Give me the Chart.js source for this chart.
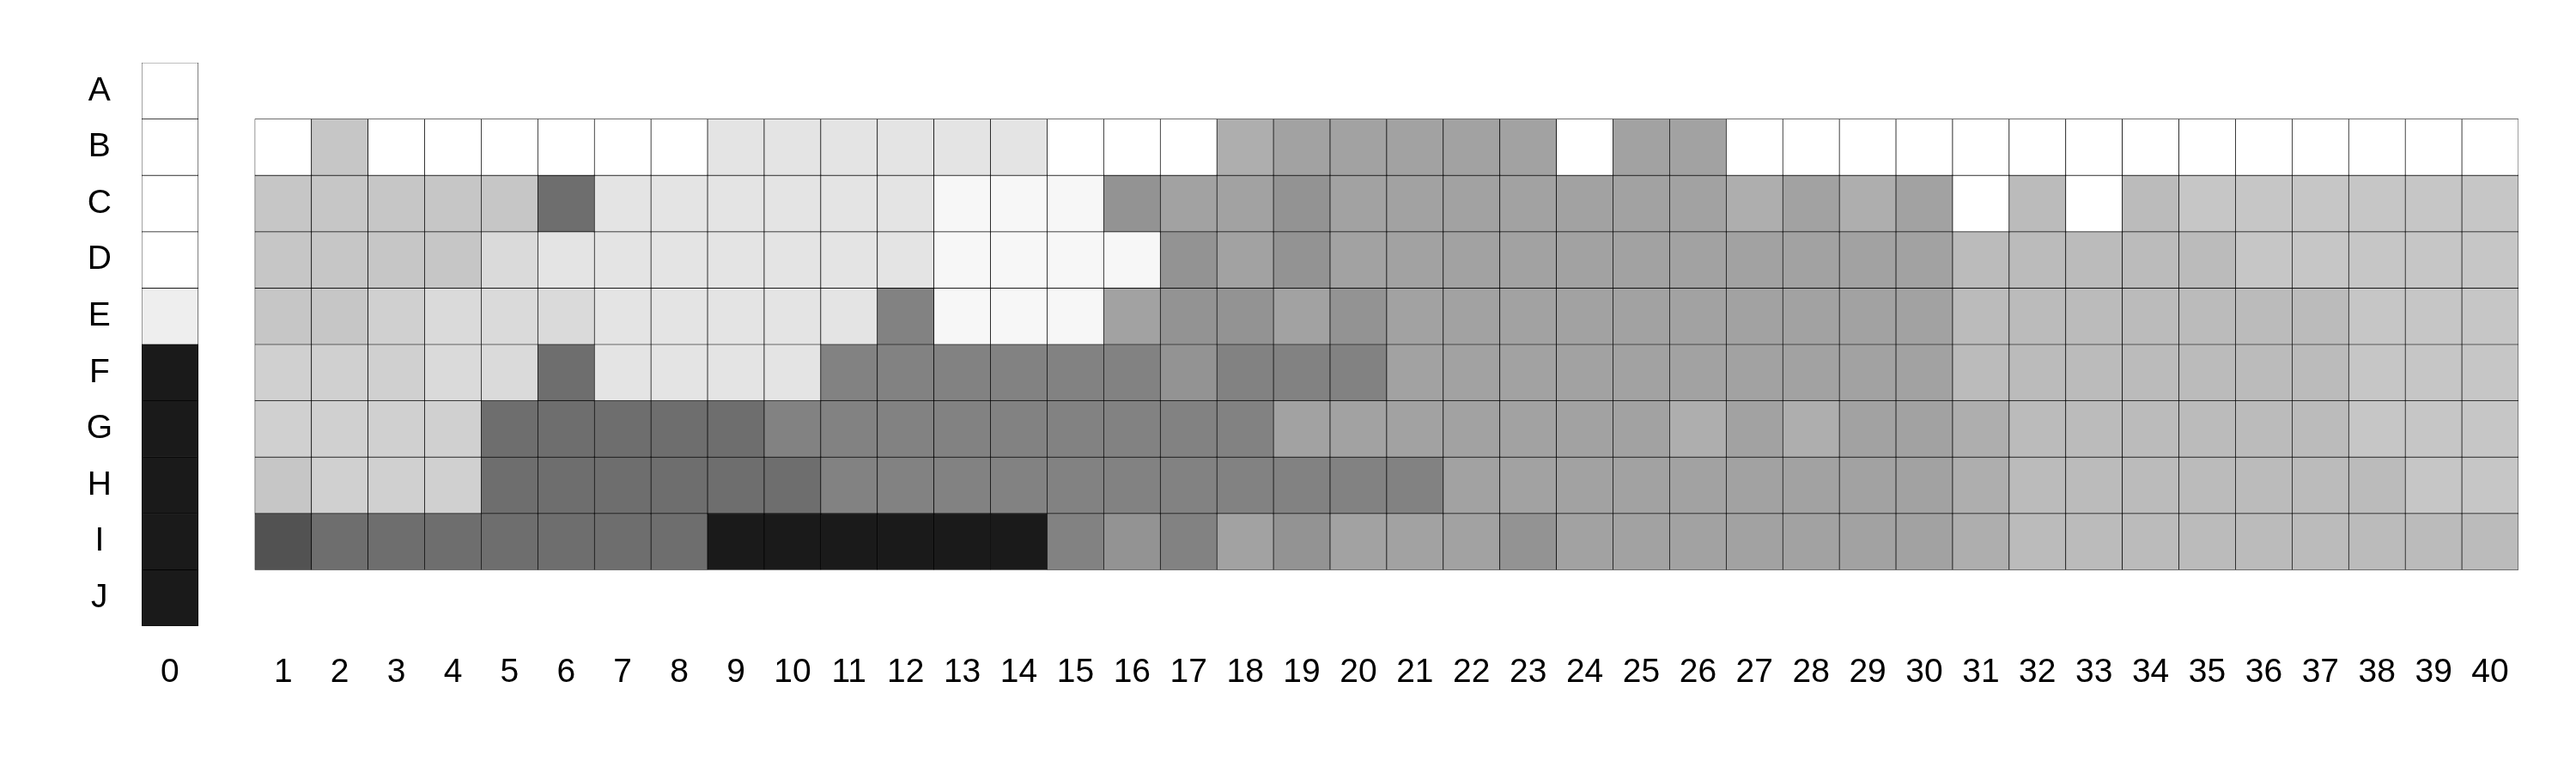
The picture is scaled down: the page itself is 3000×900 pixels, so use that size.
<!DOCTYPE html>
<html>
<head>
<meta charset="utf-8">
<script src="https://cdn.jsdelivr.net/npm/chart.js@4/dist/chart.umd.min.js"></script>
<style>
  html, body { margin: 0; padding: 0; background: #fff; }
  #grid { display: block; }
</style>
</head>
<body>
<canvas id="grid" width="3000" height="900"></canvas>
<script>
// row labels (top to bottom)
const rowLabels = ['A', 'B', 'C', 'D', 'E', 'F', 'G', 'H', 'I', 'J'];

// x tick labels, '' is the empty slot between column 0 and column 1
const colLabels = ['0', '', '1', '2', '3', '4', '5', '6', '7', '8', '9', '10',
  '11', '12', '13', '14', '15', '16', '17', '18', '19', '20',
  '21', '22', '23', '24', '25', '26', '27', '28', '29', '30',
  '31', '32', '33', '34', '35', '36', '37', '38', '39', '40'];

// column 0, rows A..J (gray level 0-255)
const col0 = [255, 255, 255, 255, 238, 26, 26, 26, 26, 26];

// columns 1..40 for rows B..I (gray level 0-255)
const rowB = [255, 198, 255, 255, 255, 255, 255, 255, 228, 228,
  228, 228, 228, 228, 255, 255, 255, 174, 162, 162,
  162, 162, 162, 255, 162, 162, 255, 255, 255, 255,
  255, 255, 255, 255, 255, 255, 255, 255, 255, 255];
const rowC = [198, 198, 198, 198, 198, 110, 228, 228, 228, 228,
  228, 228, 247, 247, 247, 147, 162, 162, 147, 162,
  162, 162, 162, 162, 162, 162, 174, 162, 174, 162,
  255, 187, 255, 187, 198, 198, 198, 198, 198, 198];
const rowD = [198, 198, 198, 198, 218, 228, 228, 228, 228, 228,
  228, 228, 247, 247, 247, 247, 147, 162, 147, 162,
  162, 162, 162, 162, 162, 162, 162, 162, 162, 162,
  187, 187, 187, 187, 187, 198, 198, 198, 198, 198];
const rowE = [198, 198, 208, 218, 218, 218, 228, 228, 228, 228,
  228, 130, 247, 247, 247, 162, 147, 147, 162, 147,
  162, 162, 162, 162, 162, 162, 162, 162, 162, 162,
  187, 187, 187, 187, 187, 187, 187, 198, 198, 198];
const rowF = [208, 208, 208, 218, 218, 110, 228, 228, 228, 228,
  130, 130, 130, 130, 130, 130, 147, 130, 130, 130,
  162, 162, 162, 162, 162, 162, 162, 162, 162, 162,
  187, 187, 187, 187, 187, 187, 187, 198, 198, 198];
const rowG = [208, 208, 208, 208, 110, 110, 110, 110, 110, 130,
  130, 130, 130, 130, 130, 130, 130, 130, 162, 162,
  162, 162, 162, 162, 162, 174, 162, 174, 162, 162,
  174, 187, 187, 187, 187, 187, 187, 198, 198, 198];
const rowH = [198, 208, 208, 208, 110, 110, 110, 110, 110, 110,
  130, 130, 130, 130, 130, 130, 130, 130, 130, 130,
  130, 162, 162, 162, 162, 162, 162, 162, 162, 162,
  174, 187, 187, 187, 187, 187, 187, 187, 198, 198];
const rowI = [82, 110, 110, 110, 110, 110, 110, 110, 26, 26,
  26, 26, 26, 26, 130, 147, 130, 162, 147, 162,
  162, 162, 147, 162, 162, 162, 162, 162, 162, 162,
  174, 187, 187, 187, 187, 187, 187, 187, 187, 187];

const gridRows = { B: rowB, C: rowC, D: rowD, E: rowE, F: rowF, G: rowG, H: rowH, I: rowI };

function gray(v) {
  return v == null ? 'rgba(0,0,0,0)' : 'rgb(' + v + ',' + v + ',' + v + ')';
}

// one floating-bar dataset per row
const datasets = rowLabels.map((name, r) => {
  const levels = [col0[r], null].concat(gridRows[name] || new Array(40).fill(null));
  return {
    label: name,
    data: levels.map(v => (v == null ? null : [r, r + 1])),
    backgroundColor: levels.map(gray),
    borderColor: '#000',
    borderWidth: 0.7,
    borderSkipped: false,
    grouped: false,
    barPercentage: 1,
    categoryPercentage: 1
  };
});

const tickFont = { family: '"Liberation Sans", Arial, sans-serif', size: 39 };

new Chart(document.getElementById('grid'), {
  type: 'bar',
  data: { labels: colLabels, datasets: datasets },
  options: {
    responsive: false,
    animation: false,
    devicePixelRatio: 1,
    layout: { padding: { left: 0, top: 73, right: 67, bottom: 0 } },
    plugins: {
      legend: { display: false },
      tooltip: { enabled: false }
    },
    scales: {
      x: {
        type: 'category',
        grid: { display: false, drawTicks: false },
        border: { display: false },
        afterFit: (scale) => { scale.height = 171; },
        ticks: {
          color: '#000',
          font: tickFont,
          padding: 31,
          autoSkip: false,
          maxRotation: 0,
          minRotation: 0
        }
      },
      y: {
        type: 'linear',
        min: 0,
        max: 10,
        reverse: true,
        grid: { display: false, drawTicks: false },
        border: { display: false },
        afterBuildTicks: (scale) => {
          scale.ticks = rowLabels.map((_, i) => ({ value: i + 0.5 }));
        },
        afterFit: (scale) => { scale.width = 165; },
        ticks: {
          color: '#000',
          font: tickFont,
          padding: 34,
          crossAlign: 'center',
          callback: (value, index) => rowLabels[index]
        }
      }
    }
  }
});
</script>
</body>
</html>
